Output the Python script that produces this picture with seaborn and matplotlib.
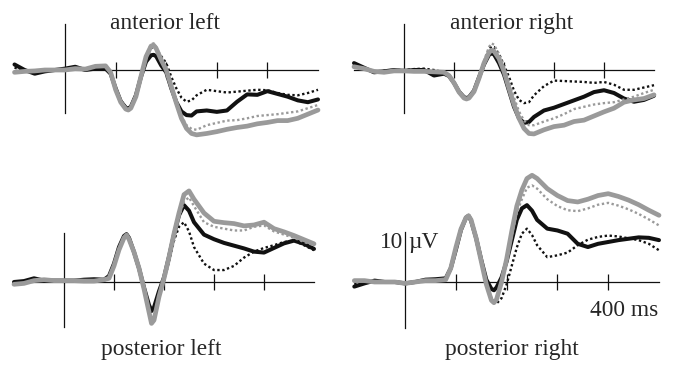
import matplotlib
matplotlib.use('Agg')
import matplotlib.pyplot as plt
import pandas as pd
import seaborn as sns

sns.set_style('white')
plt.rcParams['font.family'] = ['Liberation Serif', 'DejaVu Serif']

# time axis (ms), denser around the early components
time_ms = [-100, -80, -60, -40, -20, 0, 20, 40, 60, 80,
           90, 100, 110, 120, 125, 130, 140, 150, 160, 170,
           175, 180, 190, 200, 210, 220, 230, 240, 250, 260,
           280, 300, 320, 340, 360, 380, 400, 420, 440, 460, 480, 500]

# amplitudes (microvolts)
al_gray = [-0.5, -0.3, -0.2, 0, 0, 0, 0.3, 0.2, 0.8, 0.9,
           -0.5, -4.3, -7.0, -8.5, -8.7, -8.3, -5.8, -1.4, 2.9, 5.2,
           5.4, 4.7, 2.2, 0, -3.6, -7.2, -10.5, -12.7, -13.8, -14.1,
           -13.8, -13.4, -12.9, -12.5, -12.2, -11.7, -11.4, -11.0, -11.0, -10.5, -9.6, -8.7]
al_gray_dot = [-0.5, -0.3, -0.2, 0, 0, 0, 0.3, 0.2, 0.8, 0.9,
               -0.5, -4.2, -6.9, -8.4, -8.6, -8.2, -5.6, -1.2, 3.2, 5.6,
               5.8, 5.1, 2.6, 0.3, -3.3, -6.8, -10.0, -12.0, -12.8, -13.0,
               -12.0, -11.5, -11.0, -10.9, -10.5, -10.0, -9.8, -9.6, -9.3, -9.0, -8.3, -7.6]
al_black = [1.2, 0, -0.8, -0.3, 0, 0.3, 0.7, 0, 0.3, 0.3,
            -0.8, -4.0, -6.8, -8.2, -8.4, -8.0, -5.5, -1.5, 1.8, 3.2,
            3.3, 3.0, 1.0, -0.5, -4.0, -7.0, -9.0, -9.8, -9.9, -9.0,
            -8.8, -9.1, -8.8, -6.9, -5.3, -5.4, -4.6, -5.2, -5.8, -6.6, -7.0, -6.4]
al_black_dot = [0.5, 0, -0.5, -0.2, 0, 0.2, 0.5, 0.2, 0.4, 0.4,
                -0.6, -3.8, -6.6, -8.0, -8.2, -7.8, -5.3, -1.2, 2.5, 4.8,
                5.0, 4.6, 3.0, 1.5, -1.5, -4.0, -6.0, -6.9, -6.6, -5.5,
                -4.3, -4.6, -4.9, -4.7, -4.5, -4.3, -4.4, -5.0, -5.4, -5.5, -5.0, -4.3]

ar_gray = [0.7, 0.3, -0.3, -0.5, -0.2, -0.2, -0.3, -0.3, -0.4, -0.5,
           -1.2, -2.8, -4.8, -6.1, -6.3, -6.1, -4.7, -1.8, 1.5, 3.8,
           4.3, 4.1, 2.5, -0.3, -4.0, -7.5, -10.5, -12.7, -13.8, -13.9,
           -13.0, -12.3, -12.0, -11.2, -10.9, -10.0, -9.1, -8.3, -7.0, -6.5, -6.2, -5.4]
ar_gray_dot = [0.7, 0.3, -0.3, -0.5, -0.2, -0.2, -0.3, -0.3, -0.4, -0.5,
               -1.2, -2.8, -4.8, -6.0, -6.2, -6.0, -4.5, -1.4, 2.0, 5.0,
               5.8, 5.5, 3.5, 0.5, -2.5, -6.0, -9.0, -11.0, -12.0, -12.0,
               -11.2, -10.5, -9.6, -8.5, -8.0, -7.5, -7.2, -7.0, -6.4, -5.8, -5.0, -4.3]
ar_black = [1.5, 0.5, -0.5, -0.3, 0, -0.2, 0, 0, -1.2, -0.8,
            -1.3, -2.8, -4.7, -5.9, -6.1, -5.9, -4.5, -1.6, 1.2, 3.3,
            3.6, 3.4, 1.5, -1.0, -4.5, -8.0, -10.5, -11.5, -11.3, -10.2,
            -8.8, -8.2, -7.4, -6.6, -5.8, -4.8, -4.4, -5.0, -6.2, -6.9, -6.5, -5.6]
ar_black_dot = [1.0, 0.3, -0.3, -0.2, 0, 0, 0.2, 0.3, 0, -0.5,
                -1.2, -2.8, -4.8, -6.0, -6.2, -6.0, -4.6, -1.6, 1.8, 4.6,
                5.1, 5.0, 3.5, 1.0, -1.5, -4.5, -6.5, -7.2, -7.0, -5.5,
                -3.5, -2.3, -2.4, -2.5, -2.6, -2.8, -2.6, -3.2, -4.3, -4.3, -3.8, -3.3]

pl_gray = [-0.5, -0.3, 0.3, 0.5, 0.3, 0.3, 0.3, 0.2, 0.2, 0.5,
           0.8, 3.5, 7.0, 9.6, 10.2, 9.3, 6.5, 3.0, -1.5, -6.5,
           -9.0, -8.3, -3.2, 0.8, 5.4, 10.5, 15.0, 19.0, 19.8, 18.0,
           15.0, 13.2, 12.9, 12.7, 12.2, 12.4, 13.0, 11.6, 10.9, 10.1, 9.2, 8.3]
pl_gray_dot = [-0.5, -0.3, 0.3, 0.5, 0.3, 0.3, 0.3, 0.2, 0.2, 0.5,
               0.8, 3.5, 7.0, 9.7, 10.3, 9.4, 6.5, 3.0, -1.5, -6.3,
               -8.6, -8.0, -3.0, 0.8, 5.2, 10.0, 14.2, 17.5, 18.4, 16.5,
               13.0, 12.0, 11.6, 11.2, 11.2, 12.0, 12.3, 11.0, 10.3, 9.6, 8.7, 8.0]
pl_black = [0, 0.2, 0.8, 0.3, 0.3, 0.3, 0.3, 0.5, 0.6, 0.5,
            1.3, 4.0, 7.6, 10.0, 10.4, 9.6, 6.5, 3.0, -1.2, -5.0,
            -6.2, -5.5, -2.0, 1.0, 5.5, 10.3, 14.5, 16.7, 15.5, 13.0,
            10.3, 9.3, 8.5, 7.9, 7.3, 6.6, 6.4, 7.4, 8.4, 9.0, 8.3, 7.2]
pl_black_dot = [-0.3, 0, 0.5, 0.3, 0.2, 0.3, 0.3, 0.3, 0.4, 0.5,
                1.4, 4.0, 7.5, 9.9, 10.3, 9.5, 6.4, 2.8, -1.3, -5.5,
                -6.5, -6.0, -2.5, 0, 4.5, 9.0, 12.0, 13.0, 11.0, 7.6,
                4.0, 2.6, 2.6, 3.5, 5.3, 6.6, 7.4, 8.0, 8.7, 9.0, 8.0, 6.9]

pr_gray = [0.3, 0.3, 0, 0, 0, -0.3, 0, 0.3, 0.3, 0.5,
           3.0, 7.5, 11.5, 14.0, 14.4, 13.5, 9.5, 4.5, -0.5, -4.0,
           -4.5, -3.8, 0, 5.0, 11.0, 16.5, 20.0, 22.5, 23.2, 22.5,
           20.3, 18.8, 17.7, 17.4, 18.0, 18.8, 19.2, 18.6, 17.8, 16.8, 15.6, 14.5]
pr_gray_dot = [0.3, 0.3, 0, 0, 0, -0.3, 0, 0.3, 0.3, 0.5,
               3.0, 7.5, 11.5, 14.0, 14.4, 13.5, 9.5, 4.5, -0.5, -4.0,
               -4.4, -3.6, 0, 4.6, 10.0, 15.0, 18.0, 20.5, 21.0, 20.3,
               18.0, 16.5, 15.6, 15.4, 16.0, 16.8, 17.2, 16.6, 15.8, 14.8, 13.6, 12.3]
pr_black = [-1.0, -0.3, 0.3, 0, 0, -0.3, 0, 0.5, 0.6, 0.8,
            3.0, 7.0, 11.3, 14.0, 14.4, 13.3, 9.5, 4.8, 0.5, -1.5,
            -1.8, -1.2, 1.0, 4.5, 9.0, 13.5, 16.0, 16.7, 15.5, 13.5,
            11.6, 11.2, 10.5, 8.3, 7.6, 8.3, 8.7, 9.1, 9.4, 9.7, 9.6, 9.1]
pr_black_dot = [-0.5, -0.2, 0.2, 0, 0, -0.2, 0, 0.3, 0.4, 0.6,
                2.8, 7.0, 11.2, 13.8, 14.2, 13.2, 9.4, 4.8, -0.5, -3.5,
                -4.3, -4.7, -3.5, -0.5, 3.5, 7.5, 10.5, 11.6, 10.2, 8.0,
                5.4, 5.8, 6.4, 8.0, 9.2, 9.8, 10.1, 9.9, 9.5, 9.1, 8.3, 6.9]

panels = ['anterior left', 'anterior right', 'posterior left', 'posterior right']
conditions = ['gray', 'gray dotted', 'black', 'black dotted']
values = {
    'anterior left': [al_gray, al_gray_dot, al_black, al_black_dot],
    'anterior right': [ar_gray, ar_gray_dot, ar_black, ar_black_dot],
    'posterior left': [pl_gray, pl_gray_dot, pl_black, pl_black_dot],
    'posterior right': [pr_gray, pr_gray_dot, pr_black, pr_black_dot],
}

rows = []
for panel in panels:
    for cond, series in zip(conditions, values[panel]):
        for t, v in zip(time_ms, series):
            rows.append((panel, cond, t, v))
df = pd.DataFrame(rows, columns=['panel', 'condition', 'time', 'uV'])

styles = {
    'gray': dict(color='#9a9a9a', linewidth=3.4, linestyle='-'),
    'gray dotted': dict(color='#9a9a9a', linewidth=1.7, linestyle=(0, (1, 1.1))),
    'black': dict(color='#111111', linewidth=2.9, linestyle='-'),
    'black dotted': dict(color='#111111', linewidth=1.7, linestyle=(0, (1, 1.1))),
}
# grey traces sit on top of the black ones where they overlap
draw_order = ['black dotted', 'black', 'gray dotted', 'gray']

# layout in pixels: left, right, top, bottom, zero line, vertical bar extent
W, H = 673, 366
PX_PER_UV = 4.6
frames = {
    'anterior left': (14.5, 318, 0, 160, 70, (-9.3, 10.0)),
    'anterior right': (354, 654, 0, 160, 70, (-9.3, 10.0)),
    'posterior left': (14, 314, 165, 345, 282, (-9.8, 10.6)),
    'posterior right': (354.3, 659, 165, 345, 282, (-10.0, 10.9)),
}
titles = {
    'anterior left': (165, 29),
    'anterior right': (512, 29),
    'posterior left': (161, 355),
    'posterior right': (512, 355),
}

fig = plt.figure(figsize=(W / 100, H / 100), dpi=100)
for panel in panels:
    left, right, top, bottom, zero, vbar = frames[panel]
    ax = fig.add_axes([left / W, 1 - bottom / H, (right - left) / W, (bottom - top) / H])
    ax.patch.set_alpha(0)
    sub = df[df.panel == panel]
    for cond in draw_order:
        line = sub[sub.condition == cond]
        sns.lineplot(data=line, x='time', y='uV', ax=ax, legend=False,
                     estimator=None, sort=False, **styles[cond])
    for ln in ax.get_lines():
        ln.set_clip_on(False)
        ln.set_solid_capstyle('round')
        ln.set_solid_joinstyle('round')
    ax.set_xlim(-100, 500)
    ax.set_ylim(-(bottom - zero) / PX_PER_UV, (zero - top) / PX_PER_UV)
    ax.set_xlabel('')
    ax.set_ylabel('')
    for s in ['top', 'right']:
        ax.spines[s].set_visible(False)
    ax.spines['bottom'].set_position(('data', 0))
    ax.spines['left'].set_position(('data', 0))
    ax.spines['left'].set_bounds(*vbar)
    for s in ['bottom', 'left']:
        ax.spines[s].set_linewidth(0.9)
        ax.spines[s].set_color('#111111')
        ax.spines[s].set_zorder(0.5)
    ax.set_xticks([100, 200, 300, 400])
    ax.set_xticklabels([])
    ax.set_yticks([])
    ax.tick_params(axis='x', direction='inout', length=11.5, width=0.9,
                   color='#111111', bottom=True)
    tx, ty = titles[panel]
    fig.text(tx / W, 1 - ty / H, panel, ha='center', va='baseline', fontsize=16.8)

# scale annotations
fig.text(403 / W, 1 - 248 / H, '10', ha='right', va='baseline', fontsize=16.8)
fig.text(408 / W, 1 - 248 / H, 'µV', ha='left', va='baseline', fontsize=16.8)
fig.text(658 / W, 1 - 316.5 / H, '400 ms', ha='right', va='baseline', fontsize=16.8)

fig.savefig('out.png', dpi=100)
